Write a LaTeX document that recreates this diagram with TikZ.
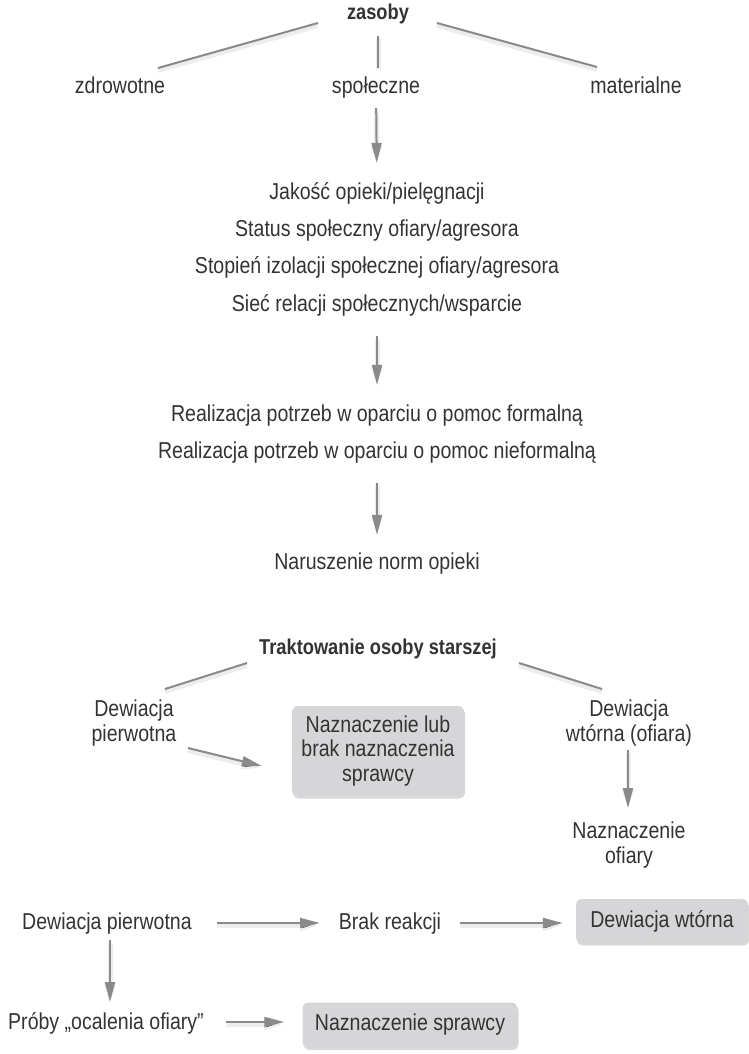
\documentclass[tikz,border=0pt]{standalone}
\usepackage{fontspec}
\setmainfont{Liberation Sans}[FakeStretch=0.85]
\usepackage{xcolor}
\usepackage{tikz}
\usetikzlibrary{arrows.meta, positioning, calc, shadows}
\definecolor{ink}{HTML}{333333}
\definecolor{wire}{HTML}{8A8A8C}
\definecolor{boxfill}{HTML}{D6D6D8}

\begin{document}
\begin{tikzpicture}[
    x=1pt, y=-1pt,
    node distance=15pt,
    item/.style={text=ink, font=\fontsize{23}{25}\selectfont, align=center, inner sep=0pt, text height=17pt, text depth=5pt},
    multi/.style={text=ink, font=\fontsize{23}{24.5}\selectfont, align=center, inner sep=0pt},
    head/.style={item, font=\fontsize{21.5}{25}\selectfont\bfseries},
    tag/.style={multi, fill=boxfill, rounded corners=6pt, drop shadow={opacity=0.3, shadow xshift=1pt, shadow yshift=-2.5pt}},
    link/.style={draw=wire, line width=2pt, preaction={draw=black, draw opacity=0.07, line width=5pt, transform canvas={yshift=-2.5pt}}},
    arrow/.style={link, -{Triangle[length=20pt, width=10pt]}}
]
\useasboundingbox (0,0) rectangle (749,1054);

% Resources
\node[head] (zas) at (378,14) {zasoby};
\node[item] (zdr) at (120,88) {zdrowotne};
\node[item] (spo) at (376,88) {społeczne};
\node[item] (mat) at (636,88) {materialne};

\draw[link] ($(zas)+(-60,9)$) -- ($(zdr)+(38,-20)$);
\draw[link] ($(zas)+(0,22)$) -- ($(spo)+(2,-20)$);
\draw[link] ($(zas)+(59,9)$) -- ($(mat)+(-39,-21)$);

% Social factors
\node[item] (q1) at (377,193) {Jakość opieki/pielęgnacji};
\node[item, below=of q1] (q2) {Status społeczny ofiary/agresora};
\node[item, below=of q2] (q3) {Stopień izolacji społecznej ofiary/agresora};
\node[item, below=of q3] (q4) {Sieć relacji społecznych/wsparcie};

\node[item] (r1) at (377,415) {Realizacja potrzeb w oparciu o pomoc formalną};
\node[item, below=of r1] (r2) {Realizacja potrzeb w oparciu o pomoc nieformalną};

\node[item] (nar) at (377,563) {Naruszenie norm opieki};

\draw[arrow, shorten <=9pt, shorten >=19pt] (spo) -- (q1);
\draw[arrow, shorten <=20pt, shorten >=19pt] (q4) -- (r1);
\draw[arrow, shorten <=19pt, shorten >=17pt] (r2) -- (nar);

% Treatment of the elderly
\node[head] (trk) at (378,648) {Traktowanie osoby starszej};
\node[multi] (dp) at (134,723) {Dewiacja\\pierwotna};
\node[multi] (dw) at (629,723) {Dewiacja\\wtórna (ofiara)};
\node[tag, minimum width=172pt, minimum height=90pt] (nls) at (378,751) {Naznaczenie lub\\brak naznaczenia\\sprawcy};
\node[multi] (nof) at (629,845) {Naznaczenie\\ofiary};

\draw[link] ($(trk)+(-131,15)$) -- ($(dp)+(31,-34)$);
\draw[link] ($(trk)+(141,15)$) -- ($(dw)+(-27,-34)$);
\draw[arrow] ($(dp)+(54,25)$) -- ($(nls.west)+(-30,15)$);
\draw[arrow] ($(dw)+(-1,27)$) -- ($(nof)+(-1,-37)$);

% Reaction chain
\node[item] (dp2) at (107,923) {Dewiacja pierwotna};
\node[item] (brak) at (390,923) {Brak reakcji};
\node[tag, minimum width=172pt, minimum height=44pt] (dw2) at (662,921) {Dewiacja wtórna};
\node[item] (proby) at (106,1023) {Próby „ocalenia ofiary”};
\node[tag, minimum width=215pt, minimum height=45pt] (ns) at (410,1025) {Naznaczenie sprawcy};

\draw[arrow] ($(dp2)+(110,0)$) -- ($(brak)+(-70,0)$);
\draw[arrow] ($(brak)+(70,0)$) -- ($(dw2.west)+(-13,2)$);
\draw[arrow] ($(dp2)+(3,17)$) -- ($(proby)+(4,-21)$);
\draw[arrow] ($(proby)+(120,-1)$) -- ($(ns.west)+(-18,-3)$);

\end{tikzpicture}
\end{document}
